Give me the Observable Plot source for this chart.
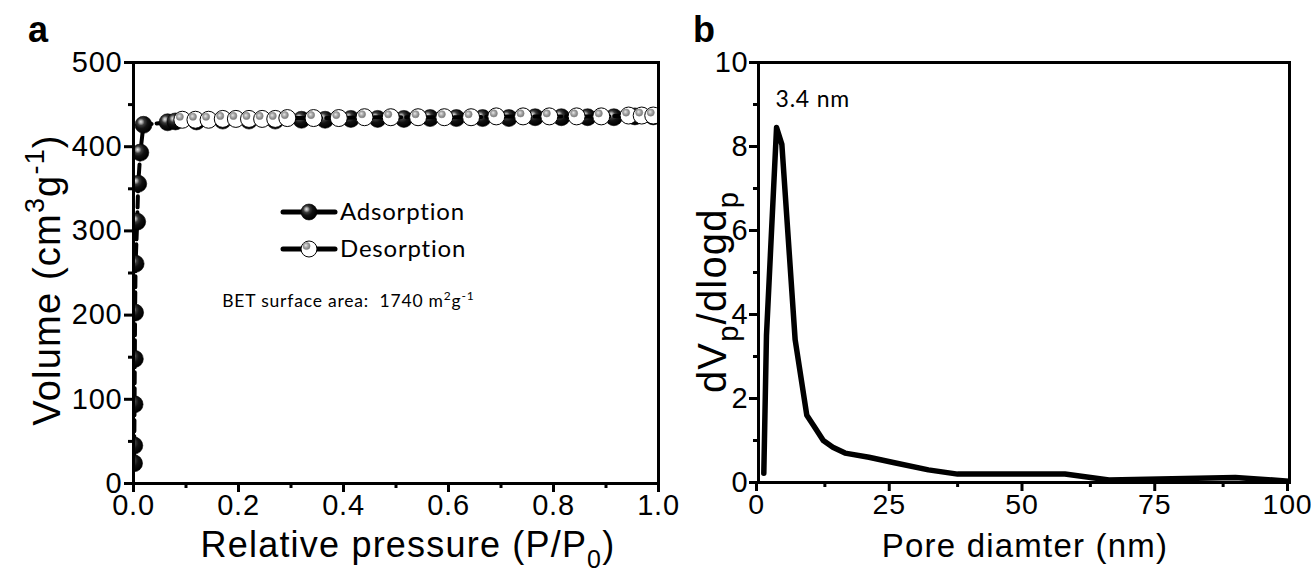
<!DOCTYPE html>
<html><head><meta charset="utf-8">
<script src="https://cdn.jsdelivr.net/npm/d3@7"></script>
<script src="https://cdn.jsdelivr.net/npm/@observablehq/plot@0.6"></script>
<style>
body{margin:0;background:#fff;}
#wrap{position:relative;width:1311px;height:574px;overflow:hidden;background:#fff;}
#wrap > svg{position:absolute;top:0;}
</style></head><body>
<svg width="0" height="0" style="position:absolute"><defs>
<radialGradient id="gA" cx="0.38" cy="0.36" r="0.62" fx="0.34" fy="0.32">
<stop offset="0" stop-color="#e6e6e6"/><stop offset="0.18" stop-color="#9a9a9a"/><stop offset="0.34" stop-color="#3a3a3a"/><stop offset="0.6" stop-color="#111"/><stop offset="1" stop-color="#000"/>
</radialGradient>
<radialGradient id="gH" cx="0.45" cy="0.45" r="0.55" fx="0.4" fy="0.4">
<stop offset="0" stop-color="#e8e8e8"/><stop offset="0.5" stop-color="#aaa"/><stop offset="1" stop-color="#7a7a7a"/>
</radialGradient>
</defs></svg>
<div id="wrap"></div>
<script>
// ---- Panel a: N2 isotherm ----
const adsP = [0.001, 0.0015, 0.002, 0.0025, 0.003, 0.004, 0.007, 0.009, 0.013, 0.019, 0.065, 0.08, 0.12, 0.17, 0.22, 0.27, 0.32, 0.365, 0.414, 0.465, 0.515, 0.565, 0.615, 0.665, 0.715, 0.765, 0.815, 0.865, 0.915, 0.955, 0.99];
const adsV = [24, 45, 94, 148, 203, 261, 311, 356, 393, 426, 429, 430, 430, 431, 431, 431, 432, 432, 433, 433, 433, 434, 434, 434, 434, 435, 435, 435, 435, 436, 436];
const desP = [0.093, 0.118, 0.143, 0.17, 0.195, 0.22, 0.245, 0.27, 0.293, 0.343, 0.391, 0.44, 0.49, 0.542, 0.592, 0.643, 0.691, 0.742, 0.792, 0.844, 0.891, 0.943, 0.968, 0.99];
const desV = [432, 432, 432, 433, 433, 433, 433, 433, 434, 434, 434, 435, 435, 435, 435, 435, 436, 436, 436, 436, 436, 437, 437, 437];
const pTicks = [0, 0.2, 0.4, 0.6, 0.8, 1.0];
const pMinor = [0.1, 0.3, 0.5, 0.7, 0.9];
const vTicks = [0, 100, 200, 300, 400, 500];
const vMinor = [50, 150, 250, 350, 450];
const legendNames = ["Adsorption", "Desorption"];
const betLabel = {p: 0.17, v: 217, text: "BET surface area:  1740 m"};

// ---- Panel b: pore size distribution ----
const poreD = [1.0, 1.5, 3.4, 4.4, 6.9, 9.1, 10.4, 12.2, 14, 16.3, 20.8, 25.6, 32, 37.5, 57.7, 66, 89.8, 100];
const dV = [0.22, 3.5, 8.45, 8.05, 3.4, 1.6, 1.35, 1.0, 0.84, 0.7, 0.6, 0.47, 0.3, 0.2, 0.2, 0.06, 0.12, 0.03];
const dTicks = [0, 25, 50, 75, 100];
const dMinor = [12.5, 37.5, 62.5, 87.5];
const yTicksB = [0, 2, 4, 6, 8, 10];
const yMinorB = [1, 3, 5, 7, 9];
const peakNote = [{d: 3.2, y: 8.95, text: "3.4 nm"}];

const ads = adsP.map((p, i) => ({p, v: adsV[i]}));
const des = desP.map((p, i) => ({p, v: desV[i]}));
const psd = poreD.map((d, i) => ({d, y: dV[i]}));

const AX = "Liberation Sans, Arial, sans-serif";
const CAL = "Lato, 'Open Sans', sans-serif";
const tickStyle = {fontFamily: AX, fontSize: "29px", color: "#000", background: "#fff", overflow: "visible", letterSpacing: "0.8px"};

const left = Plot.plot({
  width: 700, height: 574,
  marginLeft: 133, marginRight: 42, marginTop: 62, marginBottom: 91,
  x: {domain: [0, 1], label: null},
  y: {domain: [0, 500], label: null},
  style: tickStyle,
  marks: [
    Plot.axisX({ticks: pTicks, tickSize: 9, strokeWidth: 3, tickPadding: 2, tickFormat: d => d.toFixed(1), label: null}),
    Plot.axisX({ticks: pMinor, tickSize: 5, strokeWidth: 3, fill: "none", label: null}),
    Plot.axisY({ticks: vTicks, tickSize: 9, strokeWidth: 3, tickPadding: 2, label: null}),
    Plot.axisY({ticks: vMinor, tickSize: 5, strokeWidth: 3, fill: "none", label: null}),
    Plot.line(ads, {x: "p", y: "v", stroke: "#000", strokeWidth: 4, strokeDasharray: "11 5", clip: true}),
    Plot.dot(ads, {x: "p", y: "v", r: 8.5, fill: "url(#gA)", stroke: "#000", strokeWidth: 0.6, clip: true}),
    Plot.line(des, {x: "p", y: "v", stroke: "#000", strokeWidth: 4, strokeDasharray: "11 5", clip: true}),
    Plot.dot(des, {x: "p", y: "v", r: 8.5, fill: "#fff", stroke: "#000", strokeWidth: 1, clip: true}),
    Plot.dot(des, {x: "p", y: "v", r: 3.6, dx: -2.5, dy: -3, fill: "url(#gH)", stroke: "#888", strokeWidth: 0.6, clip: true}),
    Plot.frame({strokeWidth: 3, stroke: "#000"})
  ]
});

const right = Plot.plot({
  width: 611, height: 574,
  marginLeft: 58, marginRight: 22, marginTop: 62, marginBottom: 92,
  x: {domain: [0, 100], label: null},
  y: {domain: [0, 10], label: null},
  style: tickStyle,
  marks: [
    Plot.axisX({ticks: dTicks, tickSize: 9, strokeWidth: 3, tickPadding: 2, fontSize: 28.5, dx: -2, label: null}),
    Plot.axisX({ticks: dMinor, tickSize: 5, strokeWidth: 3, fill: "none", label: null}),
    Plot.axisY({ticks: yTicksB, tickSize: 9, strokeWidth: 3, tickPadding: 1, label: null}),
    Plot.axisY({ticks: yMinorB, tickSize: 5, strokeWidth: 3, fill: "none", label: null}),
    Plot.line(psd, {x: "d", y: "y", stroke: "#000", strokeWidth: 5.5, strokeLinejoin: "round", strokeLinecap: "round", clip: true}),
    Plot.text(peakNote, {x: "d", y: "y", text: "text", textAnchor: "start", lineAnchor: "bottom", fontFamily: CAL, fontSize: 23, fill: "#000"}),
    Plot.frame({strokeWidth: 3, stroke: "#000"})
  ]
});

const wrap = document.getElementById("wrap");
left.style.left = "0px";
right.style.left = "700px";
wrap.append(left, right);

function rich(sel, parts, size, small) {
  let shift = 0;
  for (const [t, k] of parts) {
    const target = k === "sup" ? -0.42 * size : k === "sub" ? 0.3 * size : 0;
    sel.append("tspan").attr("dy", target - shift).attr("font-size", k === "n" ? size : Math.round(size * (small || 0.7))).text(t);
    shift = target;
  }
}
function title(svg, x, y, rot, parts, size, family, small) {
  const t = d3.select(svg).append("text")
    .attr("transform", `translate(${x},${y}) rotate(${rot})`)
    .attr("text-anchor", "middle")
    .attr("font-family", family).attr("font-size", size)
    .attr("fill", "#000").style("letter-spacing", "1.2px");
  rich(t, parts, size, small);
  return t;
}

// Panel a titles
title(left, 408, 557, 0, [["Relative pressure (P/P", "n"], ["0", "sub"], [")", "n"]], 36, AX);
title(left, 60, 280, -90, [["Volume (cm", "n"], ["3", "sup"], ["g", "n"], ["-1", "sup"], [")", "n"]], 38, AX);
d3.select(left).append("text").attr("x", 28).attr("y", 42).attr("text-anchor", "start").attr("font-family", AX)
  .attr("font-size", 36).attr("font-weight", "bold").text("a");

// Panel b titles
title(right, 325, 557, 0, [["Pore diamter (nm)", "n"]], 33, AX);
title(right, 26, 292, -90, [["dV", "n"], ["p", "sub"], ["/dlogd", "n"], ["p", "sub"]], 40, AX, 0.72);
d3.select(right).append("text").attr("x", -7).attr("y", 42).attr("text-anchor", "start").attr("font-family", AX)
  .attr("font-size", 36).attr("font-weight", "bold").text("b");

// BET annotation (placed through the plot's scales)
const sx = left.scale("x"), sy = left.scale("y");
const bet = d3.select(left).append("text")
  .attr("x", sx.apply(betLabel.p)).attr("y", sy.apply(betLabel.v) + 7)
  .attr("text-anchor", "start")
  .attr("font-family", CAL).attr("font-size", 17.5).attr("fill", "#000");
rich(bet, [[betLabel.text, "n"], ["2", "sup"], ["g", "n"], ["-1", "sup"]], 17.5);

// Legend
const lg = d3.select(left).append("g");
legendNames.forEach((name, i) => {
  const cy = 212 + i * 37;
  lg.append("line").attr("x1", 283).attr("x2", 335).attr("y1", cy).attr("y2", cy)
    .attr("stroke", "#000").attr("stroke-width", 5).attr("stroke-linecap", "round");
  if (i === 0) {
    lg.append("circle").attr("cx", 309).attr("cy", cy).attr("r", 8).attr("fill", "url(#gA)").attr("stroke", "#000").attr("stroke-width", 0.6);
  } else {
    lg.append("circle").attr("cx", 309).attr("cy", cy).attr("r", 8).attr("fill", "#fff").attr("stroke", "#000").attr("stroke-width", 1);
    lg.append("circle").attr("cx", 306.5).attr("cy", cy - 3).attr("r", 3.6).attr("fill", "url(#gH)").attr("stroke", "#888").attr("stroke-width", 0.6);
  }
  lg.append("text").attr("x", 340).attr("y", cy + 8).attr("text-anchor", "start").attr("font-family", CAL).attr("font-size", 24)
    .attr("fill", "#000").text(name);
});
</script>
</body></html>
